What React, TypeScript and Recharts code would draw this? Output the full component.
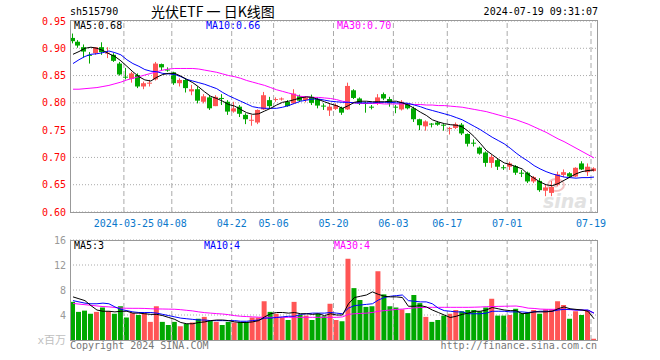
import React from 'react';
import { ComposedChart, Bar, Line, XAxis, YAxis, CartesianGrid, ReferenceLine, Cell } from 'recharts';

// trading days shown (2024)
const DATES = [
  '03-12', '03-13', '03-14', '03-15', '03-18', '03-19', '03-20', '03-21', '03-22', '03-25', '03-26', '03-27', '03-28', '03-29',
  '04-01', '04-02', '04-03', '04-08', '04-09', '04-10', '04-11', '04-12', '04-15', '04-16', '04-17', '04-18', '04-19', '04-22',
  '04-23', '04-24', '04-25', '04-26', '04-29', '04-30',
  '05-06', '05-07', '05-08', '05-09', '05-10', '05-13', '05-14', '05-15', '05-16', '05-17', '05-20', '05-21', '05-22', '05-23',
  '05-24', '05-27', '05-28', '05-29', '05-30', '05-31',
  '06-03', '06-04', '06-05', '06-06', '06-07', '06-11', '06-12', '06-13', '06-14', '06-17', '06-18', '06-19', '06-20', '06-21',
  '06-24', '06-25', '06-26', '06-27', '06-28',
  '07-01', '07-02', '07-03', '07-04', '07-05', '07-08', '07-09', '07-10', '07-11', '07-12', '07-15', '07-16', '07-17', '07-18', '07-19',
];

const OPEN = [
  0.919, 0.912, 0.902, 0.888, 0.891, 0.902, 0.891, 0.888, 0.872, 0.848,
  0.844, 0.851, 0.830, 0.836, 0.843, 0.871, 0.861, 0.856, 0.836, 0.842,
  0.821, 0.825, 0.802, 0.810, 0.794, 0.809, 0.802, 0.784, 0.793, 0.778,
  0.768, 0.764, 0.788, 0.805, 0.806, 0.807, 0.802, 0.799, 0.812, 0.805,
  0.811, 0.807, 0.795, 0.786, 0.789, 0.791, 0.788, 0.823, 0.808, 0.800,
  0.793, 0.799, 0.816, 0.807, 0.793, 0.788, 0.798, 0.790, 0.770, 0.757,
  0.762, 0.764, 0.760, 0.753, 0.754, 0.760, 0.743, 0.727, 0.718, 0.709,
  0.690, 0.695, 0.682, 0.683, 0.684, 0.672, 0.672, 0.656, 0.657, 0.639,
  0.635, 0.650, 0.668, 0.671, 0.665, 0.689, 0.673, 0.675,
];
const HIGH = [
  0.927, 0.915, 0.907, 0.893, 0.902, 0.911, 0.902, 0.891, 0.875, 0.864,
  0.857, 0.854, 0.839, 0.842, 0.875, 0.872, 0.865, 0.857, 0.845, 0.845,
  0.833, 0.830, 0.816, 0.813, 0.814, 0.816, 0.805, 0.802, 0.796, 0.781,
  0.778, 0.788, 0.820, 0.811, 0.810, 0.810, 0.805, 0.825, 0.815, 0.812,
  0.815, 0.810, 0.799, 0.799, 0.799, 0.793, 0.837, 0.825, 0.810, 0.802,
  0.796, 0.816, 0.819, 0.811, 0.796, 0.805, 0.800, 0.793, 0.771, 0.768,
  0.763, 0.766, 0.761, 0.756, 0.764, 0.763, 0.744, 0.733, 0.720, 0.711,
  0.705, 0.698, 0.686, 0.692, 0.686, 0.677, 0.674, 0.666, 0.662, 0.650,
  0.657, 0.674, 0.678, 0.673, 0.682, 0.693, 0.689, 0.682,
];
const LOW = [
  0.909, 0.901, 0.883, 0.872, 0.888, 0.888, 0.882, 0.875, 0.850, 0.843,
  0.837, 0.827, 0.825, 0.830, 0.841, 0.860, 0.857, 0.833, 0.830, 0.819,
  0.814, 0.799, 0.799, 0.787, 0.794, 0.796, 0.778, 0.782, 0.774, 0.761,
  0.758, 0.761, 0.787, 0.790, 0.802, 0.804, 0.793, 0.798, 0.802, 0.801,
  0.796, 0.790, 0.787, 0.776, 0.787, 0.778, 0.787, 0.807, 0.796, 0.782,
  0.788, 0.796, 0.805, 0.793, 0.781, 0.786, 0.788, 0.765, 0.750, 0.749,
  0.755, 0.758, 0.749, 0.742, 0.752, 0.741, 0.720, 0.720, 0.705, 0.683,
  0.681, 0.677, 0.677, 0.677, 0.668, 0.664, 0.653, 0.653, 0.637, 0.629,
  0.629, 0.648, 0.664, 0.663, 0.664, 0.677, 0.666, 0.674,
];
const CLOSE = [
  0.913, 0.905, 0.894, 0.887, 0.902, 0.893, 0.892, 0.877, 0.852, 0.847,
  0.854, 0.830, 0.836, 0.837, 0.872, 0.865, 0.860, 0.836, 0.842, 0.827,
  0.825, 0.804, 0.812, 0.790, 0.811, 0.808, 0.784, 0.790, 0.780, 0.770,
  0.769, 0.787, 0.814, 0.794, 0.807, 0.808, 0.794, 0.817, 0.804, 0.810,
  0.800, 0.795, 0.794, 0.793, 0.796, 0.782, 0.831, 0.809, 0.799, 0.799,
  0.792, 0.810, 0.808, 0.799, 0.792, 0.802, 0.790, 0.770, 0.759, 0.766,
  0.761, 0.760, 0.759, 0.754, 0.761, 0.744, 0.725, 0.726, 0.707, 0.690,
  0.701, 0.683, 0.681, 0.689, 0.672, 0.671, 0.656, 0.664, 0.640, 0.645,
  0.646, 0.669, 0.673, 0.665, 0.681, 0.678, 0.683, 0.680,
];

// moving averages
const MA5 = [
  0.889, 0.894, 0.900, 0.902, 0.900, 0.896, 0.890, 0.885, 0.877, 0.867, 0.857, 0.848, 0.842, 0.840, 0.847,
  0.852, 0.854, 0.854, 0.849, 0.843, 0.837, 0.829, 0.820, 0.812, 0.808, 0.803, 0.797, 0.794, 0.788, 0.782,
  0.779, 0.780, 0.785, 0.790, 0.796, 0.801, 0.803, 0.806, 0.809, 0.811, 0.810, 0.806, 0.802, 0.798, 0.795,
  0.790, 0.795, 0.801, 0.803, 0.803, 0.802, 0.802, 0.802, 0.803, 0.803, 0.800, 0.796, 0.790, 0.783, 0.777,
  0.769, 0.765, 0.762, 0.760, 0.759, 0.756, 0.748, 0.738, 0.726, 0.713, 0.705, 0.697, 0.690, 0.687, 0.683,
  0.679, 0.669, 0.662, 0.655, 0.650, 0.648, 0.652, 0.658, 0.664, 0.670, 0.674, 0.676, 0.677,
];
const MA10 = [
  0.872, 0.879, 0.885, 0.889, 0.890, 0.892, 0.895, 0.892, 0.888, 0.879, 0.872, 0.867, 0.861, 0.858, 0.857,
  0.854, 0.853, 0.852, 0.848, 0.843, 0.840, 0.837, 0.834, 0.830, 0.826, 0.819, 0.813, 0.808, 0.803, 0.798,
  0.793, 0.791, 0.790, 0.790, 0.790, 0.792, 0.795, 0.799, 0.803, 0.805, 0.807, 0.807, 0.805, 0.803, 0.802,
  0.801, 0.801, 0.800, 0.800, 0.800, 0.800, 0.801, 0.801, 0.801, 0.800, 0.800, 0.799, 0.796, 0.793, 0.789,
  0.786, 0.783, 0.780, 0.777, 0.773, 0.769, 0.763, 0.757, 0.751, 0.744, 0.737, 0.731, 0.725, 0.717, 0.708,
  0.700, 0.693, 0.685, 0.679, 0.674, 0.670, 0.667, 0.664, 0.663, 0.662, 0.663, 0.663, 0.664,
];
const MA30 = [
  0.825, 0.825, 0.826, 0.827, 0.828, 0.830, 0.832, 0.835, 0.838, 0.842, 0.845, 0.848, 0.851, 0.854, 0.857,
  0.860, 0.862, 0.863, 0.863, 0.863, 0.863, 0.862, 0.860, 0.858, 0.856, 0.853, 0.850, 0.848, 0.845, 0.841,
  0.838, 0.835, 0.832, 0.828, 0.824, 0.821, 0.818, 0.815, 0.812, 0.811, 0.810, 0.810, 0.809, 0.808, 0.806,
  0.803, 0.801, 0.800, 0.799, 0.799, 0.799, 0.799, 0.798, 0.798, 0.798, 0.798, 0.798, 0.797, 0.797, 0.796,
  0.796, 0.795, 0.795, 0.794, 0.793, 0.792, 0.790, 0.788, 0.786, 0.784, 0.781, 0.778, 0.775, 0.772, 0.769,
  0.765, 0.761, 0.756, 0.751, 0.746, 0.740, 0.734, 0.729, 0.723, 0.717, 0.711, 0.705, 0.699,
];

// volume, millions
const VOL = [
  6.1, 4.5, 4.7, 4.2, 4.5, 5.2, 4.6, 4.2, 5.4, 3.6, 4.3, 4.0, 4.3, 2.9, 5.4,
  2.9, 2.4, 2.9, 2.2, 2.6, 2.8, 3.4, 3.7, 3.1, 2.9, 2.4, 2.9, 2.8, 2.9, 2.9,
  3.6, 3.6, 6.2, 4.5, 4.2, 3.6, 3.2, 6.1, 4.0, 3.9, 3.2, 4.2, 3.8, 5.8, 3.2,
  3.0, 13.0, 8.3, 6.4, 5.3, 5.4, 11.0, 7.3, 5.4, 5.2, 4.9, 4.3, 7.2, 5.9, 3.7,
  2.9, 3.2, 3.9, 4.2, 4.8, 4.6, 4.8, 4.8, 4.6, 5.2, 6.6, 3.9, 3.9, 4.0, 5.0,
  4.3, 4.4, 4.8, 4.2, 4.9, 4.9, 6.2, 5.6, 3.4, 4.6, 4.0, 4.8, 0.2,
];
const VMA5 = [
  6.9, 6.6, 6.3, 5.5, 4.8, 4.6, 4.6, 4.5, 4.6, 4.6, 4.3, 4.3, 4.2, 4.1, 4.1,
  3.9, 3.6, 3.3, 2.8, 2.6, 2.6, 2.8, 2.9, 3.1, 3.2, 3.2, 3.1, 2.9, 2.8, 2.8,
  2.9, 3.1, 3.7, 4.2, 4.4, 4.4, 4.3, 4.4, 4.2, 4.2, 4.1, 4.2, 3.9, 4.2, 4.0,
  4.0, 5.8, 6.8, 7.0, 7.2, 7.7, 7.3, 7.0, 6.9, 6.9, 6.8, 5.4, 5.4, 5.5, 5.3,
  4.8, 4.4, 4.0, 3.6, 3.8, 4.1, 4.3, 4.6, 4.6, 4.8, 5.2, 5.0, 4.8, 4.7, 4.7,
  4.2, 4.3, 4.5, 4.5, 4.5, 4.6, 5.0, 5.3, 5.0, 4.9, 4.8, 4.6, 3.4,
];
const VMA10 = [
  6.3, 6.1, 5.9, 5.8, 5.8, 5.9, 5.8, 5.3, 4.9, 4.7, 4.5, 4.4, 4.4, 4.4, 4.3,
  4.1, 3.9, 3.7, 3.5, 3.4, 3.3, 3.2, 3.2, 3.1, 3.1, 3.1, 3.1, 3.1, 3.0, 3.0,
  3.1, 3.2, 3.5, 3.5, 3.6, 3.7, 3.8, 3.8, 4.1, 4.2, 4.3, 4.3, 4.3, 4.4, 4.3,
  4.2, 5.1, 5.5, 5.6, 5.7, 5.8, 6.4, 6.8, 7.0, 7.1, 7.2, 6.3, 6.2, 6.1, 6.1,
  5.8, 5.1, 4.7, 4.6, 4.5, 4.5, 4.2, 4.2, 4.2, 4.3, 4.6, 4.6, 4.6, 4.5, 4.5,
  4.5, 4.4, 4.5, 4.6, 4.6, 4.6, 4.8, 4.9, 4.9, 4.8, 4.8, 4.8, 4.3,
];
const VMA30 = [
  5.85, 5.75, 5.65, 5.55, 5.45, 5.35, 5.3, 5.2, 5.1, 5.08, 5.07, 5.07, 5.05, 5.0, 4.97,
  4.96, 4.94, 4.92, 4.85, 4.75, 4.65, 4.5, 4.38, 4.3, 4.22, 4.16, 4.05, 3.9, 3.8, 3.75,
  3.7, 3.65, 3.63, 3.63, 3.63, 3.63, 3.63, 3.63, 3.63, 3.63, 3.63, 3.63, 3.63, 3.63, 3.63,
  3.7, 4.1, 4.2, 4.25, 4.3, 4.4, 4.6, 4.7, 4.8, 4.9, 4.95, 5.05, 5.15, 5.2, 5.22,
  5.23, 5.23, 5.23, 5.23, 5.23, 5.23, 5.23, 5.25, 5.28, 5.33, 5.35, 5.38, 5.4, 5.42, 5.44,
  5.3, 5.1, 5.05, 4.95, 4.92, 4.91, 4.91, 4.9, 4.85, 4.8, 4.78, 4.75, 4.3,
];

const TICK_DATES = ['03-25', '04-08', '04-22', '05-06', '05-20', '06-03', '06-17', '07-01', '07-19'];
const TICK_TEXT = ['2024-03-25', '04-08', '04-22', '05-06', '05-20', '06-03', '06-17', '07-01', '07-19'];
const PRICE_TICKS = [0.6, 0.65, 0.7, 0.75, 0.8, 0.85, 0.9, 0.95];
const VOL_TICKS = [0, 4, 8, 12, 16];

const UP = '#ff5555';
const DOWN = '#00a800';
const MONO = '"DejaVu Sans Mono", "Liberation Mono", monospace';
const CJK = '"Noto Sans CJK SC", sans-serif';

const rows = DATES.map((date, i) => ({
  date,
  open: OPEN[i],
  high: HIGH[i],
  low: LOW[i],
  close: CLOSE[i],
  ma5: MA5[i],
  ma10: MA10[i],
  ma30: MA30[i],
  vol: VOL[i],
  vma5: VMA5[i],
  vma10: VMA10[i],
  vma30: VMA30[i],
}));

const last = rows.length - 1;

const Candle = (props: any) => {
  const { x, y, width, height, payload } = props;
  const { open, close, high, low } = payload;
  const color = close >= open ? UP : DOWN;
  const span = high - low;
  const toY = (v: number) => (span === 0 ? y : y + ((high - v) / span) * height);
  const cx = Math.round(x + width / 2) - 0.5;
  const top = toY(Math.max(open, close));
  const bottom = toY(Math.min(open, close));
  return (
    <g>
      <line x1={cx} x2={cx} y1={y} y2={y + height} stroke={color} strokeWidth={1} />
      <rect x={cx - 2.5} y={top} width={5} height={Math.max(bottom - top, 1)} fill={color} />
    </g>
  );
};

const DateTick = (props: any) => {
  const { x, y, payload } = props;
  const idx = TICK_DATES.indexOf(payload.value);
  return (
    <text x={x - 3} y={y + 13} textAnchor="middle" fill="#0a78cc" fontSize={10} fontFamily={MONO}>
      {TICK_TEXT[idx]}
    </text>
  );
};

const VolTick = (props: any) => {
  const { x, y, payload } = props;
  const zero = payload.value === 0;
  return (
    <text
      x={x}
      y={y + 3.5}
      textAnchor="end"
      fill={zero ? '#c0c0c0' : '#999'}
      fontSize={zero ? 11 : 10}
      fontFamily={zero ? `${MONO}, ${CJK}` : MONO}
    >
      {zero ? 'x百万' : payload.value}
    </text>
  );
};

const txt = (text: string, left: number, top: number, color: string, size = 10, family = MONO) => (
  <div
    style={{
      position: 'absolute',
      left,
      top,
      color,
      fontSize: size,
      fontFamily: family,
      lineHeight: '12px',
      whiteSpace: 'pre',
    }}
  >
    {text}
  </div>
);

const frame = (top: number, height: number) => (
  <div
    style={{
      position: 'absolute',
      left: 70,
      top,
      width: 528,
      height,
      border: '1px solid #999',
      boxSizing: 'border-box',
      pointerEvents: 'none',
    }}
  />
);

export default function App() {
  return (
    <div style={{ position: 'absolute', left: 0, top: 0, width: 660, height: 360, background: '#fff', overflow: 'hidden' }}>
      {/* sina watermark */}
      <svg style={{ position: 'absolute', left: 540, top: 176 }} width={60} height={36}>
        <ellipse cx={16} cy={9} rx={8} ry={6} fill="none" stroke="#f3c2c2" strokeWidth={2} />
        <circle cx={16} cy={9} r={2.5} fill="#f3c2c2" />
        <text x={3} y={32} fontFamily='"DejaVu Sans", sans-serif' fontStyle="italic" fontWeight="bold" fontSize={19} fill="#e2e2e2">
          sina
        </text>
      </svg>

      <div style={{ position: 'absolute', left: 0, top: 0 }}>
        <ComposedChart width={660} height={360} data={rows} margin={{ top: 21, right: 63, bottom: 125, left: 0 }}>
          <CartesianGrid vertical={false} stroke="#aaa" strokeDasharray="1 2" />
          <XAxis
            dataKey="date"
            ticks={TICK_DATES}
            interval={0}
            tick={<DateTick />}
            tickLine={false}
            axisLine={false}
            tickSize={0}
            height={23}
          />
          <YAxis
            domain={[0.6, 0.95]}
            ticks={PRICE_TICKS}
            allowDataOverflow
            tickFormatter={(v: number) => v.toFixed(2)}
            tick={{ fill: '#ff0000', fontSize: 10, fontFamily: MONO }}
            tickLine={false}
            axisLine={false}
            tickSize={0}
            tickMargin={4}
            width={70}
          />
          {TICK_DATES.map((d) => (
            <ReferenceLine key={d} x={d} stroke="#aaa" strokeDasharray="5 3" position="start" />
          ))}
          <Bar dataKey={(r: any) => [r.low, r.high]} shape={(p: any) => <Candle {...p} />} barSize={5} isAnimationActive={false} />
          <Line dataKey="ma30" stroke="#ff00ff" strokeWidth={1} dot={false} isAnimationActive={false} />
          <Line dataKey="ma10" stroke="#0000ff" strokeWidth={1} dot={false} isAnimationActive={false} />
          <Line dataKey="ma5" stroke="#000000" strokeWidth={1} dot={false} isAnimationActive={false} />
        </ComposedChart>
      </div>

      <div style={{ position: 'absolute', left: 0, top: 0 }}>
        <ComposedChart width={660} height={360} data={rows} margin={{ top: 240, right: 63, bottom: 20, left: 0 }}>
          <CartesianGrid vertical={false} stroke="#aaa" strokeDasharray="1 2" />
          <XAxis dataKey="date" hide />
          <YAxis
            domain={[0, 16]}
            ticks={VOL_TICKS}
            allowDataOverflow
            tick={<VolTick />}
            tickLine={false}
            axisLine={false}
            tickSize={0}
            tickMargin={4}
            width={70}
          />
          {TICK_DATES.map((d) => (
            <ReferenceLine key={d} x={d} stroke="#aaa" strokeDasharray="5 3" position="start" />
          ))}
          <Bar dataKey="vol" barSize={5} isAnimationActive={false}>
            {rows.map((r, i) => (
              <Cell key={i} fill={r.close >= r.open ? UP : DOWN} />
            ))}
          </Bar>
          <Line dataKey="vma30" stroke="#ff00ff" strokeWidth={1} dot={false} isAnimationActive={false} />
          <Line dataKey="vma10" stroke="#0000ff" strokeWidth={1} dot={false} isAnimationActive={false} />
          <Line dataKey="vma5" stroke="#000000" strokeWidth={1} dot={false} isAnimationActive={false} />
        </ComposedChart>
      </div>

      {frame(20, 193)}
      {frame(240, 101)}

      {txt('sh515790', 70, 6, '#000')}
      <div
        style={{
          position: 'absolute',
          left: 151,
          top: 3,
          fontFamily: CJK,
          fontSize: 14,
          lineHeight: '17px',
          color: '#000',
          whiteSpace: 'pre',
        }}
      >
        光伏ETF 一 日K线图
      </div>
      <div
        style={{
          position: 'absolute',
          right: 62,
          top: 6,
          fontFamily: MONO,
          fontSize: 10,
          lineHeight: '12px',
          color: '#000',
        }}
      >
        2024-07-19 09:31:07
      </div>

      {txt(`MA5:${MA5[last].toFixed(2)}`, 74, 20, '#000')}
      {txt(`MA10:${MA10[last].toFixed(2)}`, 206, 20, '#0000ff')}
      {txt(`MA30:${MA30[last].toFixed(2)}`, 337, 20, '#ff00ff')}

      {txt(`MA5:${Math.round(VMA5[last])}`, 74, 240, '#000')}
      {txt(`MA10:${Math.round(VMA10[last])}`, 204, 240, '#0000ff')}
      {txt(`MA30:${Math.round(VMA30[last])}`, 334, 240, '#ff00ff')}

      {txt('Copyright 2024 SINA.COM', 70, 340, '#777')}
      <div
        style={{
          position: 'absolute',
          right: 63,
          top: 340,
          fontFamily: MONO,
          fontSize: 10,
          lineHeight: '12px',
          color: '#777',
        }}
      >
        http://finance.sina.com.cn
      </div>
    </div>
  );
}
